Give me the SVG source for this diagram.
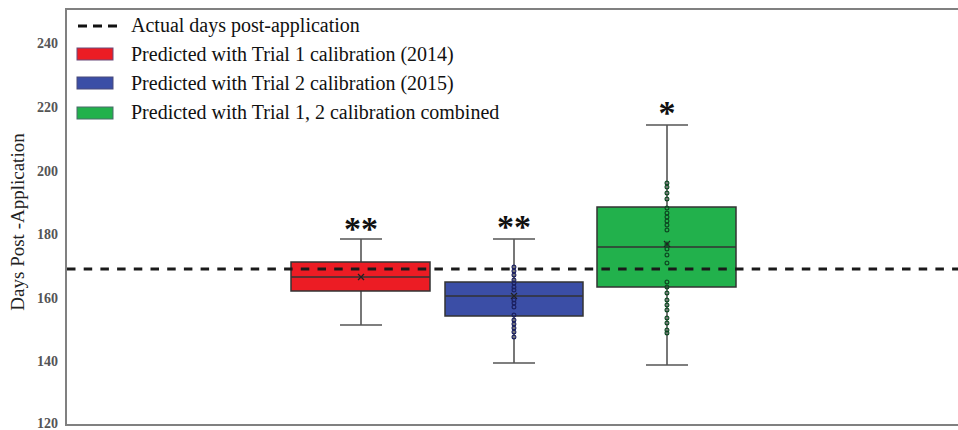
<svg xmlns="http://www.w3.org/2000/svg" width="958" height="430" viewBox="0 0 958 430">
<style>
text{font-family:"Liberation Serif","Times New Roman",serif}
.tick{font-size:14px;font-weight:bold;fill:#555;text-anchor:end}
.leg{font-size:20px;fill:#111}
.ast{font-size:34px;font-weight:bold;fill:#111;text-anchor:middle}
.wh{stroke:#555;stroke-width:1.6;fill:none}
.box{stroke:#333;stroke-width:1.5}
.med{stroke:#333;stroke-width:1.5}
.dash{stroke:#1a1a1a;stroke-width:3;stroke-dasharray:8.5 8.2;fill:none}
.bd{fill:none;stroke:#1b2060;stroke-width:1.2}
.gd{fill:none;stroke:#0d4a22;stroke-width:1.2}
.mk{stroke:#222;stroke-width:1.3}
</style>
<rect width="958" height="430" fill="#fff"/>
<g id="frame">
<polyline points="960,9 66,9 66,425 960,425" fill="none" stroke="#808080" stroke-width="2"/>
</g>
<g id="yaxis">
<text class="tick" x="58" y="48">240</text>
<text class="tick" x="58" y="112">220</text>
<text class="tick" x="58" y="176">200</text>
<text class="tick" x="58" y="239">180</text>
<text class="tick" x="58" y="303">160</text>
<text class="tick" x="58" y="366">140</text>
<text class="tick" x="58" y="428">120</text>
<text x="0" y="0" transform="translate(24,222) rotate(-90)" text-anchor="middle" font-size="19" fill="#222">Days Post -Application</text>
</g>
<g id="box-trial1">
<line class="wh" x1="361" y1="239" x2="361" y2="325"/>
<line class="wh" x1="340" y1="239" x2="382" y2="239"/>
<line class="wh" x1="340" y1="325" x2="382" y2="325"/>
<rect class="box" x="291" y="262" width="139" height="29" fill="#ec1c24"/>
<line class="med" x1="291" y1="277" x2="430" y2="277"/>
<text class="ast" x="361" y="240">**</text>
</g>
<g id="box-trial2">
<line class="wh" x1="514" y1="239" x2="514" y2="363"/>
<line class="wh" x1="493" y1="239" x2="535" y2="239"/>
<line class="wh" x1="493" y1="363" x2="535" y2="363"/>
<rect class="box" x="445" y="282" width="138" height="34" fill="#3b4ea6"/>
<line class="med" x1="445" y1="296" x2="583" y2="296"/>
<text class="ast" x="514" y="238">**</text>
</g>
<g id="box-combined">
<line class="wh" x1="667" y1="125" x2="667" y2="365"/>
<line class="wh" x1="646" y1="125" x2="688" y2="125"/>
<line class="wh" x1="646" y1="365" x2="688" y2="365"/>
<rect class="box" x="597" y="207" width="139" height="80" fill="#22b14c"/>
<line class="med" x1="597" y1="247" x2="736" y2="247"/>
<text class="ast" x="667" y="124">*</text>
</g>
<g id="actual-line">
<line class="dash" x1="67" y1="269" x2="958" y2="269"/>
</g>
<g id="points">
<path class="mk" d="M358,274 L364,280 M364,274 L358,280"/>
<path class="mk" d="M511,293 L517,299 M517,293 L511,299"/>
<path class="mk" d="M664,241 L670,247 M670,241 L664,247"/>
<g class="bd">
<circle cx="514" cy="267" r="1.9"/><circle cx="514" cy="271" r="1.9"/><circle cx="514" cy="275" r="1.9"/><circle cx="514" cy="280" r="1.9"/><circle cx="514" cy="283" r="1.9"/><circle cx="514" cy="287" r="1.9"/><circle cx="514" cy="290" r="1.9"/><circle cx="514" cy="300" r="1.9"/><circle cx="514" cy="303" r="1.9"/><circle cx="514" cy="307" r="1.9"/><circle cx="514" cy="315" r="1.9"/><circle cx="514" cy="320" r="1.9"/><circle cx="514" cy="324" r="1.9"/><circle cx="514" cy="328" r="1.9"/><circle cx="514" cy="332" r="1.9"/><circle cx="514" cy="337" r="1.9"/>
</g>
<g class="gd">
<circle cx="667" cy="183" r="1.9"/><circle cx="667" cy="187" r="1.9"/><circle cx="667" cy="193" r="1.9"/><circle cx="667" cy="199" r="1.9"/><circle cx="667" cy="208" r="1.9"/><circle cx="667" cy="213" r="1.9"/><circle cx="667" cy="217" r="1.9"/><circle cx="667" cy="221" r="1.9"/><circle cx="667" cy="225" r="1.9"/><circle cx="667" cy="230" r="1.9"/><circle cx="667" cy="244" r="1.9"/><circle cx="667" cy="249" r="1.9"/><circle cx="667" cy="255" r="1.9"/><circle cx="667" cy="263" r="1.9"/><circle cx="667" cy="282" r="1.9"/><circle cx="667" cy="287" r="1.9"/><circle cx="667" cy="293" r="1.9"/><circle cx="667" cy="300" r="1.9"/><circle cx="667" cy="305" r="1.9"/><circle cx="667" cy="310" r="1.9"/><circle cx="667" cy="318" r="1.9"/><circle cx="667" cy="323" r="1.9"/><circle cx="667" cy="330" r="1.9"/><circle cx="667" cy="333" r="1.9"/>
</g>
</g>
<g id="legend">
<line x1="78" y1="26" x2="118" y2="26" stroke="#111" stroke-width="3" stroke-dasharray="9 6"/>
<text class="leg" x="131" y="32">Actual days post-application</text>
<rect x="77" y="48" width="36" height="12" fill="#ec1c24" stroke="#6a4a7a" stroke-width="1"/>
<text class="leg" x="131" y="61">Predicted with Trial 1 calibration (2014)</text>
<rect x="77" y="77" width="36" height="12" fill="#3b4ea6" stroke="#4a4a7a" stroke-width="1"/>
<text class="leg" x="131" y="90">Predicted with Trial 2 calibration (2015)</text>
<rect x="77" y="107" width="36" height="12" fill="#22b14c" stroke="#4a6a6a" stroke-width="1"/>
<text class="leg" x="131" y="119">Predicted with Trial 1, 2 calibration combined</text>
</g>
</svg>
